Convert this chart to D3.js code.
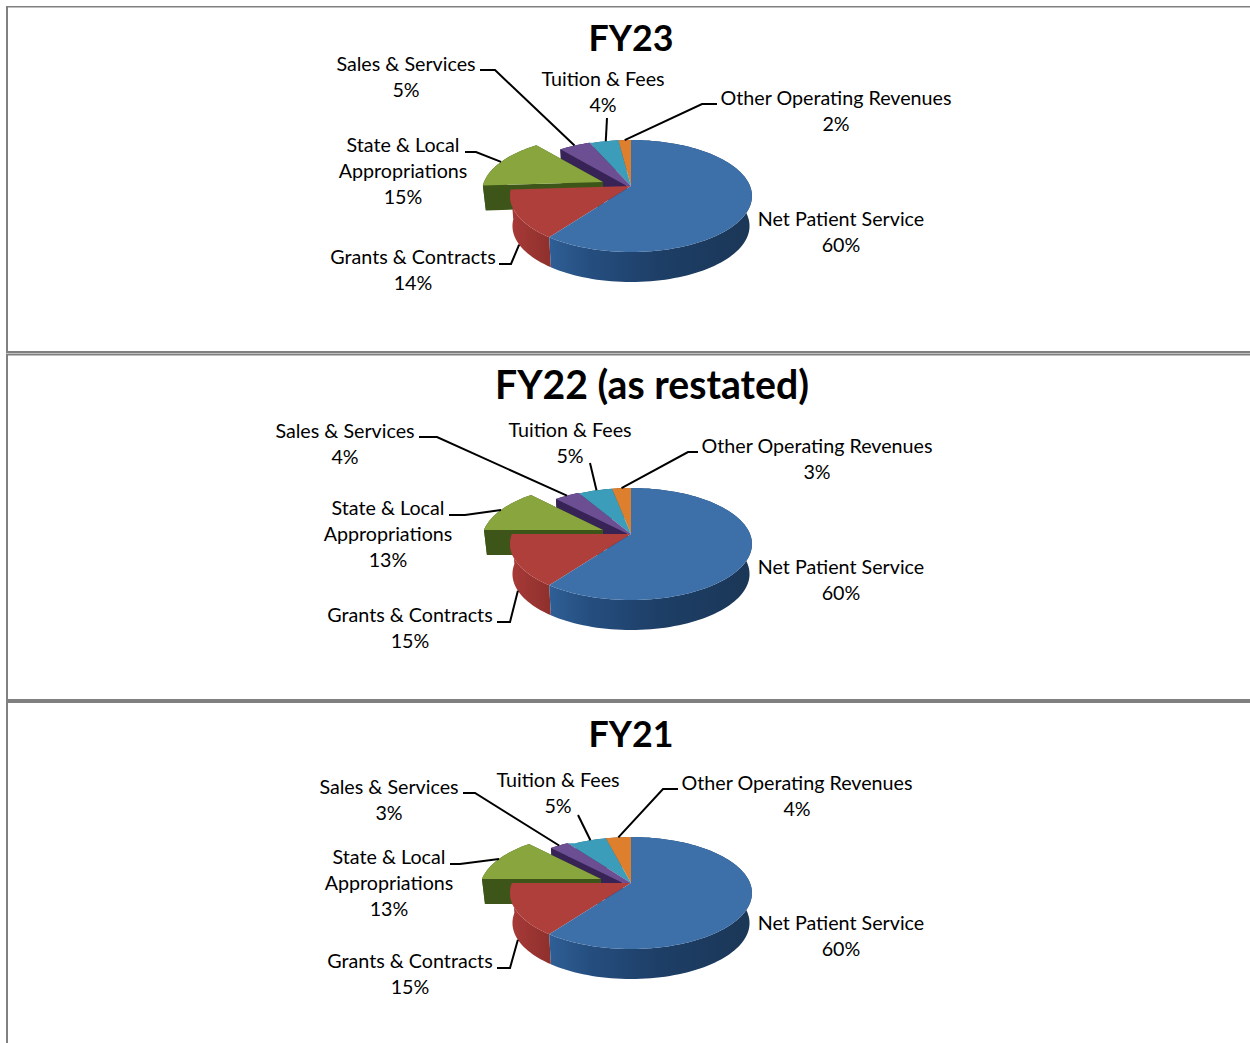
<!DOCTYPE html>
<html>
<head>
<meta charset="utf-8">
<title>Operating revenues by source</title>
<script src="https://cdnjs.cloudflare.com/ajax/libs/d3/7.8.5/d3.min.js"></script>
<style>
  html, body { margin: 0; padding: 0; background: #fff; overflow: hidden; }
  svg { display: block; }
  text { font-family: Lato, "Open Sans", sans-serif; fill: #000; }
</style>
</head>
<body>
<svg id="chart" width="1250" height="1043"></svg>
<script>
// Revenue sources, in clockwise order from twelve o'clock
const categories = ["Net Patient Service", "Grants & Contracts", "State & Local Appropriations",
                    "Sales & Services", "Tuition & Fees", "Other Operating Revenues"];
const fiscalYears = ["FY23", "FY22 (as restated)", "FY21"];
const valuesFY23 = [60, 14, 15, 5, 4, 2];
const valuesFY22 = [60, 15, 13, 4, 5, 3];
const valuesFY21 = [60, 15, 13, 3, 5, 4];

// Slice appearance, by category index
const topColors  = ["#3d6fa9", "#ae3f3b", "#88a53e", "#6c4e92", "#3b9db9", "#dd7f2d"];
const wallColors = ["url(#wallBlue)", "url(#wallRed)", "#3d5518", "#372356", "#22637a", "#8f4f17"];
const paintOrder = [5, 4, 3, 2, 1, 0];
const salesIndex = 3, tuitionIndex = 4;

// Panel layout
const panels = [
  { values: valuesFY23, apexY: 186, titleX: 631, titleY: 51,  titleSize: 35.8, push: { 2: [-28, -4], 3: [-4, 0] },
    labels: [
      { x: 841, y: 226 },
      { x: 413, y: 264, from: [499, 264], elbow: [511, 264], drop: 1 },
      { x: 403, y: 152, from: [465, 152], elbow: [476, 152] },
      { x: 406, y: 71,  from: [480, 70],  elbow: [495, 70] },
      { x: 603, y: 86,  from: [607, 118] },
      { x: 836, y: 105, from: [717, 104], elbow: [702, 104] }
    ] },
  { values: valuesFY22, apexY: 534, titleX: 652, titleY: 399, titleSize: 39.2, push: { 2: [-28, -4], 3: [-3, 0] },
    labels: [
      { x: 841, y: 574 },
      { x: 410, y: 622, from: [497, 622], elbow: [510, 622], drop: 1 },
      { x: 388, y: 515, from: [449, 515], elbow: [465, 515] },
      { x: 345, y: 438, from: [419, 437], elbow: [437, 437] },
      { x: 570, y: 437, from: [590, 463] },
      { x: 817, y: 453, from: [698, 452], elbow: [688, 452] }
    ] },
  { values: valuesFY21, apexY: 883, titleX: 631, titleY: 747, titleSize: 35.8, push: { 2: [-30, -4], 3: [-8, 0] },
    labels: [
      { x: 841, y: 930 },
      { x: 410, y: 968, from: [497, 968], elbow: [510, 968], drop: 1 },
      { x: 389, y: 864, from: [450, 864], elbow: [460, 864] },
      { x: 389, y: 794, from: [463, 793], elbow: [475, 793] },
      { x: 558, y: 787, from: [578, 815] },
      { x: 797, y: 790, from: [678, 789], elbow: [663, 789] }
    ] }
];

// Tilted-disc projection: the near rim is drawn larger than the far rim
const centerX = 631, radiusX = 119, radiusY = 54.2, tilt = -0.179;
const depth = 30, pulledDepth = 25, floorScale = 0.98;
const lineStep = Math.PI / 90;

function project(angle, apexY) {
  const u = Math.sin(angle), v = -Math.cos(angle), w = 1 + tilt * v;
  return [centerX + radiusX * u / w, apexY + radiusY * v / w];
}
const toFloor = ([x, y], h = depth) => [centerX + (x - centerX) * floorScale, y + h];
const shift = (p, d) => [p[0] + d[0], p[1] + d[1]];

const svg = d3.select("#chart");
const defs = svg.append("defs");
function addGradient(id, stops) {
  const g = defs.append("linearGradient").attr("id", id);
  stops.forEach(([o, c]) => g.append("stop").attr("offset", o).attr("stop-color", c));
}
addGradient("wallBlue", [[0, "#2f5f96"], [0.2, "#254e7f"], [0.55, "#1d3e66"], [1, "#1b3757"]]);
addGradient("wallRed",  [[0, "#a83a37"], [1, "#8e302d"]]);

// Panel frame rules
const frame = svg.append("g").attr("fill", "#808080");
[[6, 1.5], [351, 2.5], [354, 1.5], [699, 4]].forEach(([y, h]) =>
  frame.append("rect").attr("x", 6).attr("y", y).attr("width", 1244).attr("height", h));
frame.append("rect").attr("x", 6).attr("y", 6).attr("width", 2).attr("height", 345.5);
frame.append("rect").attr("x", 6).attr("y", 355).attr("width", 2).attr("height", 688);

const pieLayout = d3.pie().sort(null).startAngle(0).endAngle(2 * Math.PI);
const outline = d3.line();

panels.forEach((panel, pi) => {
  const g = svg.append("g");
  const arcs = pieLayout(panel.values);
  const apex = [centerX, panel.apexY];

  paintOrder.forEach(i => {
    const a = arcs[i], d = panel.push[i] || [0, 0];
    const h = panel.push[i] ? pulledDepth : depth;
    const rim = d3.range(a.startAngle, a.endAngle, lineStep).concat(a.endAngle)
      .map(t => shift(project(t, panel.apexY), d));
    const tip = shift(apex, d);
    const slice = g.append("g");
    const floor = p => toFloor(p, h);

    // Outer wall, then the cut faces of any slice pulled out of the disc
    slice.append("path").attr("fill", wallColors[i])
      .attr("d", outline(rim.concat(rim.map(floor).reverse())) + "Z");
    if (panel.push[i]) {
      [rim[0], rim[rim.length - 1]].forEach(corner => {
        slice.append("path").attr("fill", wallColors[i])
          .attr("d", outline([tip, corner, floor(corner), floor(tip)]) + "Z");
      });
    }

    // The barely pulled Sales slice still closes on the disc centre, and
    // Tuition reaches across to its edge, so no seam opens between the two
    const lead = i === tuitionIndex
      ? [shift(project(a.startAngle, panel.apexY), panel.push[salesIndex])] : [];
    const tail = i === salesIndex ? [apex] : [];
    slice.append("path").attr("fill", topColors[i])
      .attr("d", outline([tip].concat(lead, rim, tail)) + "Z");
  });

  // Leader lines end on the middle of each slice's rim
  panel.labels.forEach((lab, i) => {
    if (!lab.from) return;
    const a = arcs[i], d = panel.push[i] || [0, 0];
    let end = shift(project((a.startAngle + a.endAngle) / 2, panel.apexY), d);
    if (lab.drop) end = toFloor(end);
    const pts = lab.elbow ? [lab.from, lab.elbow, end] : [lab.from, end];
    g.append("path").attr("fill", "none").attr("stroke", "#000").attr("stroke-width", 2)
      .attr("d", outline(pts));
  });

  // Category names, wrapped where the source label wraps, then the share
  panel.labels.forEach((lab, i) => {
    const name = categories[i];
    const lines = name.startsWith("State") ? ["State & Local", "Appropriations"] : [name];
    lines.concat(panel.values[i] + "%").forEach((t, k) => {
      g.append("text").attr("x", lab.x).attr("y", lab.y + k * 26)
        .attr("text-anchor", "middle").attr("font-size", 19.7).text(t);
    });
  });

  g.append("text").attr("x", panel.titleX).attr("y", panel.titleY)
    .attr("text-anchor", "middle").attr("font-size", panel.titleSize).attr("font-weight", 700)
    .text(fiscalYears[pi]);
});
</script>
</body>
</html>
